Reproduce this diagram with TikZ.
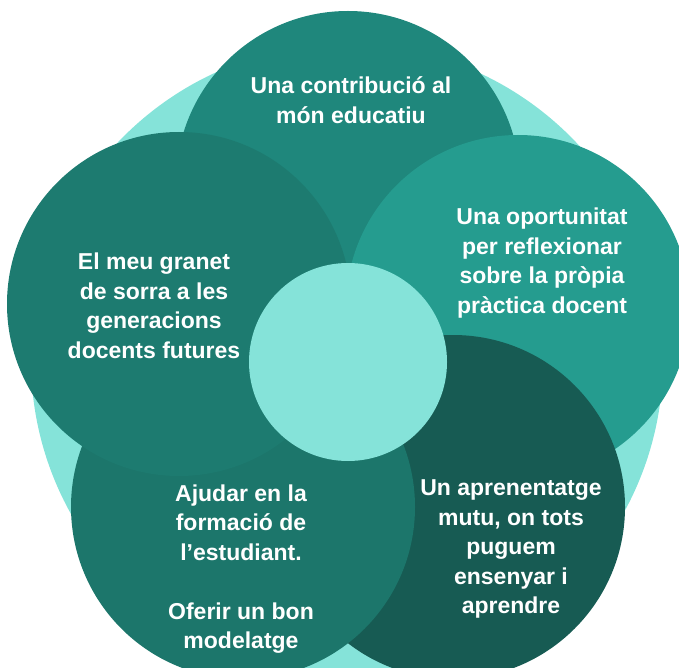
\documentclass[tikz,border=0pt]{standalone}
\usepackage{fontspec}
\setmainfont{Liberation Sans}
\definecolor{lightc}{HTML}{85E3D9}
\definecolor{topc}{HTML}{1F877C}
\definecolor{rightc}{HTML}{259C8F}
\definecolor{leftc}{HTML}{1D7B70}
\definecolor{blc}{HTML}{1C766B}
\definecolor{brc}{HTML}{175B53}
\begin{document}
\begin{tikzpicture}[x=1pt,y=-1pt,
  petal/.style={circle, minimum size=344pt, inner sep=0pt, draw=none},
  lbl/.style={text=white, font=\fontsize{23}{29.5}\selectfont\bfseries, align=center, inner sep=0pt}]
\useasboundingbox (0,0) rectangle (679,668);
\clip (0,0) rectangle (679,668);
\node[circle, minimum size=632pt, inner sep=0pt, fill=lightc] (bg) at (347,360) {};
\node[petal, fill=topc] (ptop) at (348,183) {};
\node[petal, fill=rightc] (pright) at (518,307) {};
\node[petal, fill=brc] (pbr) at (453,507) {};
\node[petal, fill=blc] (pbl) at (243,507) {};
\node[petal, fill=leftc] (pleft) at (179,304) {};
\node[circle, minimum size=198pt, inner sep=0pt, fill=lightc] (center) at (348,362) {};
\node[lbl] (ttop) at (351,100) {Una contribució al\\món educatiu};
\node[lbl] (tleft) at (154,306) {El meu granet\\de sorra a les\\generacions\\docents futures};
\node[lbl] (tright) at (542,263) {Una oportunitat\\per reflexionar\\sobre la pròpia\\pràctica docent};
\node[lbl] (tbr) at (511,549) {Un aprenentatge\\mutu, on tots\\puguem\\ensenyar i\\aprendre};
\node[lbl] (tbl) at (241,569) {Ajudar en la\\formació de\\l’estudiant.\\[29.5pt]Oferir un bon\\modelatge};
\end{tikzpicture}
\end{document}
